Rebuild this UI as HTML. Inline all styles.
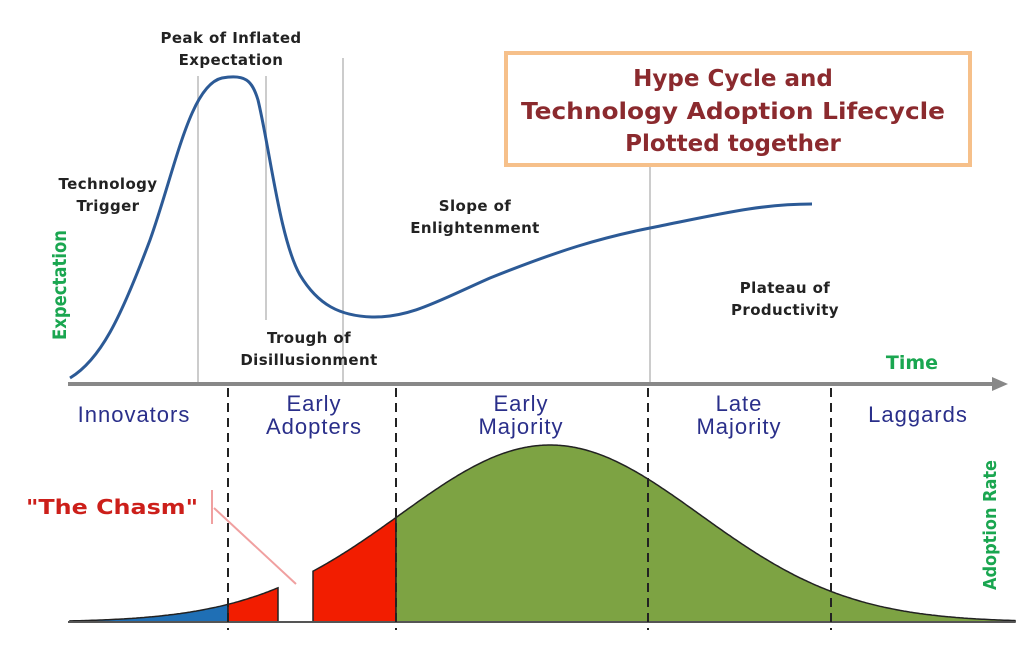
<!DOCTYPE html>
<html><head><meta charset="utf-8"><style>
html,body{margin:0;padding:0;background:#fff;width:1024px;height:652px;overflow:hidden}
svg{display:block}
.b{font-family:"DejaVu Sans","Liberation Sans",sans-serif;font-weight:bold;font-size:15px;fill:#222;letter-spacing:0.4px}
.n{font-family:"Liberation Sans",sans-serif;font-size:22px;fill:#2a2f8a;letter-spacing:1px}
</style></head><body>
<svg width="1024" height="652" viewBox="0 0 1024 652">
<rect width="1024" height="652" fill="#fff"/>
<g stroke="#ccc" stroke-width="2">
<line x1="198" y1="76" x2="198" y2="384"/>
<line x1="266" y1="76" x2="266" y2="320"/>
<line x1="343" y1="58" x2="343" y2="384"/>
<line x1="650" y1="165" x2="650" y2="384"/>
</g>
<path d="M70,378 C100,360 120,320 150,240 C175,170 190,85 222,78 C245,74 252,80 258,100 C270,150 280,240 300,275 C318,305 340,316 372,317 C410,318 440,300 490,278 C560,250 600,238 650,228 C720,214 760,204 812,204" fill="none" stroke="#2c5a96" stroke-width="3"/>
<line x1="68" y1="384" x2="995" y2="384" stroke="#888" stroke-width="4"/>
<polygon points="992,377 1008,384 992,391" fill="#888"/>
<rect x="506" y="53" width="464" height="112" fill="#fff" stroke="#f6c08a" stroke-width="4"/>
<g font-family="DejaVu Sans,Liberation Sans,sans-serif" font-weight="bold" font-size="23" fill="#8b2a2e" text-anchor="middle">
<text x="733" y="86">Hype Cycle and</text>
<text x="733" y="119" textLength="424" lengthAdjust="spacingAndGlyphs">Technology Adoption Lifecycle</text>
<text x="733" y="151">Plotted together</text>
</g>
<g class="b" text-anchor="middle">
<text x="231" y="43">Peak of Inflated</text>
<text x="231" y="65">Expectation</text>
<text x="108" y="189">Technology</text>
<text x="108" y="211">Trigger</text>
<text x="309" y="343">Trough of</text>
<text x="309" y="365">Disillusionment</text>
<text x="475" y="211">Slope of</text>
<text x="475" y="233">Enlightenment</text>
<text x="785" y="293">Plateau of</text>
<text x="785" y="315">Productivity</text>
</g>
<text x="912" y="369" text-anchor="middle" font-family="DejaVu Sans,sans-serif" font-weight="bold" font-size="19" fill="#1aa650">Time</text>
<text transform="translate(66,285) rotate(-90)" text-anchor="middle" font-family="DejaVu Sans,sans-serif" font-weight="bold" font-size="19" fill="#1aa650" textLength="110" lengthAdjust="spacingAndGlyphs">Expectation</text>
<text transform="translate(996,525) rotate(-90)" text-anchor="middle" font-family="DejaVu Sans,sans-serif" font-weight="bold" font-size="18" fill="#1aa650" textLength="130" lengthAdjust="spacingAndGlyphs">Adoption Rate</text>
<g id="bell"></g>
<g stroke="#222" stroke-width="2" stroke-dasharray="9,6">
<line x1="228" y1="388" x2="228" y2="630"/>
<line x1="396" y1="388" x2="396" y2="630"/>
<line x1="648" y1="388" x2="648" y2="630"/>
<line x1="831" y1="388" x2="831" y2="630"/>
</g>
<g class="n" text-anchor="middle">
<text x="134" y="422">Innovators</text>
<text x="314" y="411">Early</text>
<text x="314" y="434">Adopters</text>
<text x="521" y="411">Early</text>
<text x="521" y="434">Majority</text>
<text x="739" y="411">Late</text>
<text x="739" y="434">Majority</text>
<text x="918" y="422">Laggards</text>
</g>
<text x="112" y="514" text-anchor="middle" font-family="DejaVu Sans,sans-serif" font-weight="bold" font-size="20" fill="#cc1f1a" textLength="172" lengthAdjust="spacingAndGlyphs">"The Chasm"</text>
<line x1="212" y1="490" x2="212" y2="524" stroke="#f0a0a0" stroke-width="2"/>
<line x1="214" y1="508" x2="296" y2="584" stroke="#f0a0a0" stroke-width="2"/>
</svg>
<script>
(function(){
var g=document.getElementById('bell');var B=622,A=177,m=550,s=150;
function y(x){return B-A*Math.exp(-Math.pow((x-m)/s,2)/2);}
function seg(x0,x1,fill){var d='M'+x0+','+B;for(var x=x0;x<=x1;x+=2)d+=' L'+x+','+y(x).toFixed(1);d+=' L'+x1+','+y(x1).toFixed(1)+' L'+x1+','+B+' Z';
var p=document.createElementNS('http://www.w3.org/2000/svg','path');p.setAttribute('d',d);p.setAttribute('fill',fill);p.setAttribute('stroke','#222');p.setAttribute('stroke-width','1.5');g.appendChild(p);}
seg(70,228,'#1f6fb5');seg(228,278,'#f21d00');seg(313,396,'#f21d00');seg(396,1015,'#7da343');
var l=document.createElementNS('http://www.w3.org/2000/svg','line');l.setAttribute('x1',68);l.setAttribute('x2',1015);l.setAttribute('y1',B);l.setAttribute('y2',B);l.setAttribute('stroke','#555');l.setAttribute('stroke-width','2');g.appendChild(l);
})();
</script>
</body></html>
